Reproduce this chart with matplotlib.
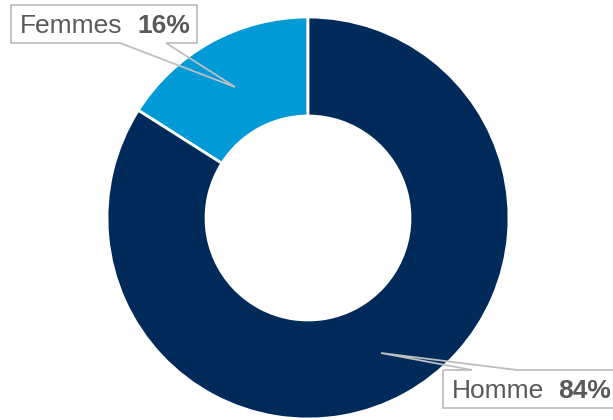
import matplotlib.pyplot as plt
from matplotlib.patches import Polygon

labels = ["Femmes", "Homme"]
shares = [16, 84]
colors = ["#009AD7", "#002A5A"]

W, H = 613, 420


def main():
    plt.rcParams["font.family"] = ["Liberation Sans", "DejaVu Sans"]
    fig = plt.figure(figsize=(W / 100, H / 100), dpi=100)
    ax = fig.add_axes([0, 0, 1, 1])
    ax.set_xlim(0, W)
    ax.set_ylim(0, H)
    ax.set_aspect("equal")
    ax.axis("off")

    ax.pie(shares, colors=colors, startangle=90, counterclock=True,
           center=(308, 202), radius=201, frame=True,
           wedgeprops=dict(width=99, edgecolor="white", linewidth=2))
    ax.set_xlim(0, W)
    ax.set_ylim(0, H)
    ax.axis("off")

    # callout boxes (pixel coords from top, converted)
    def callout(pts):
        pts = [(x, H - y) for x, y in pts]
        ax.add_patch(Polygon(pts, closed=True, facecolor="none",
                             edgecolor="#BFBFBF", linewidth=1.3, zorder=5))

    ax.add_patch(Polygon([(11, H - 5), (197, H - 5), (197, H - 43), (11, H - 43)],
                         facecolor="white", edgecolor="none", zorder=4))
    callout([(11, 5), (197, 5), (197, 43), (166, 43), (235, 87), (120, 43), (11, 43)])
    ax.add_patch(Polygon([(443, H - 370), (616, H - 370), (616, H - 408), (443, H - 408)],
                         facecolor="white", edgecolor="none", zorder=4))
    callout([(443, 370), (472, 370), (381, 353), (517, 370), (616, 370), (616, 408), (443, 408)])

    txt = dict(fontsize=19, color="#595959", va="baseline", zorder=6)
    ax.text(20, H - 33, labels[0], **txt)
    ax.text(137, H - 33, f"{shares[0]}%", fontweight="bold", **txt)
    ax.text(452, H - 398, labels[1], **txt)
    ax.text(558, H - 398, f"{shares[1]}%", fontweight="bold", **txt)

    fig.savefig("out.png", dpi=100)


if __name__ == "__main__":
    main()
